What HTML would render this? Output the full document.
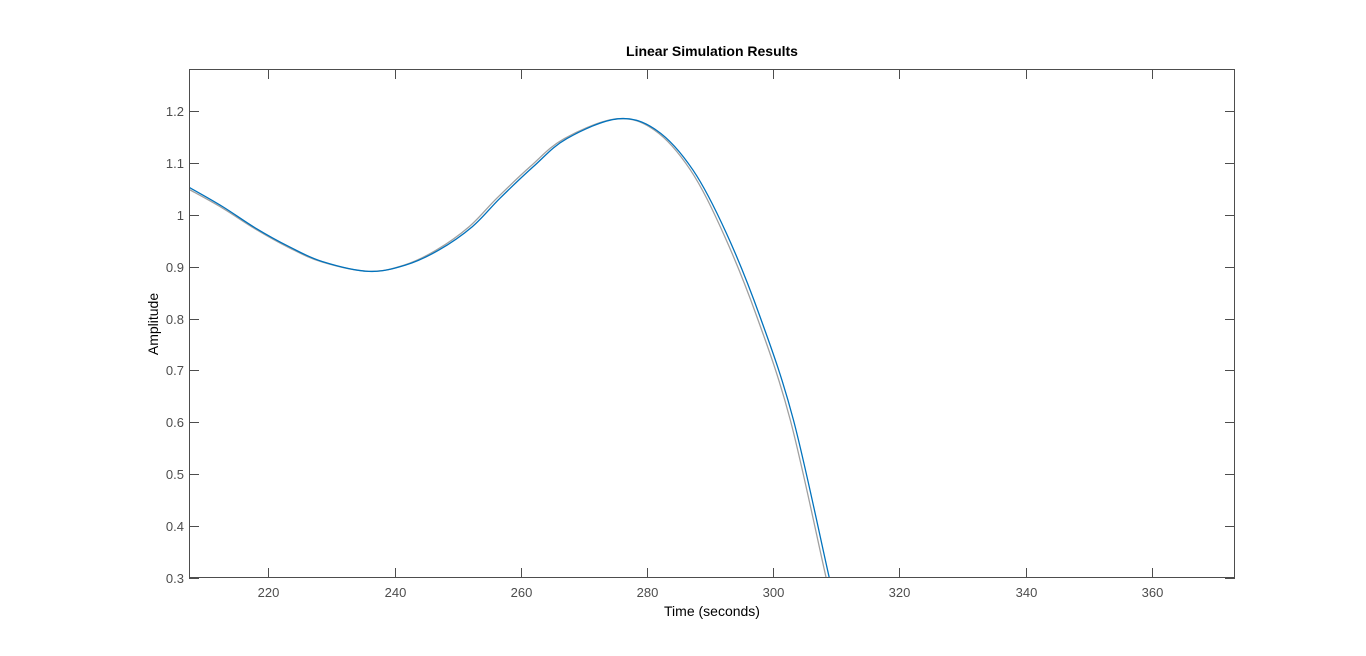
<!DOCTYPE html>
<html><head><meta charset="utf-8"><style>
body{margin:0;background:#fff;width:1366px;height:651px;overflow:hidden;font-family:"Liberation Sans",sans-serif}
</style></head><body>
<svg id="chart" width="1366" height="651" xmlns="http://www.w3.org/2000/svg"></svg>
<script>
const xTicks=[220,240,260,280,300,320,340,360];
const yTicks=[0.3,0.4,0.5,0.6,0.7,0.8,0.9,1,1.1,1.2];
const blueT=[204,207.4,212.7,218.0,223.2,228.5,235.9,241.7,247.0,252.3,256.7,262.0,267.3,275.4,281.5,287.3,292.6,297.9,303.2,308.9,311];
const blueV=[1.075,1.053,1.016,0.974,0.939,0.910,0.891,0.903,0.932,0.977,1.032,1.093,1.147,1.185,1.163,1.086,0.964,0.804,0.605,0.300,0.19];
const grayT=[204,207.4,212.7,218.0,223.2,228.5,235.9,241.5,246.6,251.8,256.2,261.5,266.9,275.2,281.2,286.9,292.1,297.4,302.7,308.4,310.5];
const grayV=[1.071,1.049,1.013,0.972,0.937,0.909,0.891,0.903,0.932,0.977,1.032,1.093,1.147,1.185,1.163,1.086,0.964,0.804,0.605,0.300,0.19];
const L=189,R=1235,T=69,B=578;
const xMin=207.4,xMax=373.2,yMin=0.3,yMax=1.281;
const xs=t=>L+(t-xMin)/(xMax-xMin)*(R-L);
const ys=v=>B-(v-yMin)/(yMax-yMin)*(B-T);
const svg=document.getElementById('chart');
const NS='http://www.w3.org/2000/svg';
function mk(tag,attrs,parent){const e=document.createElementNS(NS,tag);for(const k in attrs)e.setAttribute(k,attrs[k]);(parent||svg).appendChild(e);return e;}
const defs=mk('defs',{});const cp=mk('clipPath',{id:'pc'},defs);mk('rect',{x:L,y:T,width:R-L,height:B-T},cp);
const bg=mk('rect',{x:L,y:T,width:R-L,height:B-T,fill:'#fff'});


function path(ts,vs){const p=ts.map((t,i)=>[xs(t),ys(vs[i])]);let d='M'+p[0][0]+','+p[0][1];
for(let i=0;i<p.length-1;i++){const p0=p[Math.max(0,i-1)],p1=p[i],p2=p[i+1],p3=p[Math.min(p.length-1,i+2)];
d+=' C'+(p1[0]+(p2[0]-p0[0])/6)+','+(p1[1]+(p2[1]-p0[1])/6)+' '+(p2[0]-(p3[0]-p1[0])/6)+','+(p2[1]-(p3[1]-p1[1])/6)+' '+p2[0]+','+p2[1];}return d;}
const g=mk('g',{'clip-path':'url(#pc)'});
const gl=mk('path',{d:path(grayT,grayV),fill:'none',stroke:'#a0a0a0','stroke-width':1.3},g);


const bl=mk('path',{d:path(blueT,blueV),fill:'none',stroke:'#0072bd','stroke-width':1.3},g);


const box=mk('rect',{x:L+0.5,y:T+0.5,width:R-L-1,height:B-T-1,fill:'none',stroke:'#4d4d4d','stroke-width':1});


xTicks.forEach(t=>{const x=Math.round(xs(t))+0.5;
mk('line',{x1:x,x2:x,y1:B,y2:B-10,stroke:'#4d4d4d'});mk('line',{x1:x,x2:x,y1:T,y2:T+10,stroke:'#4d4d4d'});
const tx=mk('text',{x:x,y:B+19,'text-anchor':'middle','font-size':13,fill:'#4d4d4d'});tx.textContent=t;

});
yTicks.forEach(v=>{const y=Math.round(ys(v))+0.5;
mk('line',{x1:L,x2:L+10,y1:y,y2:y,stroke:'#4d4d4d'});mk('line',{x1:R-10,x2:R,y1:y,y2:y,stroke:'#4d4d4d'});
const tx=mk('text',{x:L-5,y:y+4.5,'text-anchor':'end','font-size':13,fill:'#4d4d4d'});tx.textContent=v;

});
const ti=mk('text',{x:712,y:56,'text-anchor':'middle','font-size':14,'font-weight':'bold',fill:'#000'});ti.textContent='Linear Simulation Results';


const xl=mk('text',{x:712,y:616,'text-anchor':'middle','font-size':14,fill:'#000'});xl.textContent='Time (seconds)';


const yl=mk('text',{x:158,y:324,'text-anchor':'middle','font-size':14,fill:'#000',transform:'rotate(-90 158 324)'});yl.textContent='Amplitude';


</script>
</body></html>
